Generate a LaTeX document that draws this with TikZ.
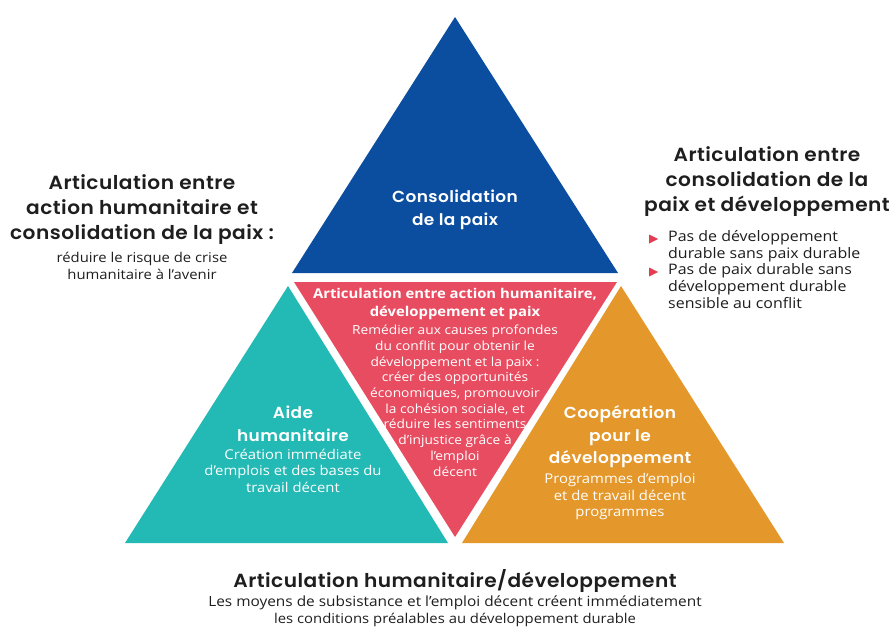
\documentclass[tikz,border=0pt]{standalone}
\usepackage{fontspec}
\setmainfont{Open Sans}[FakeStretch=1.1]
\newfontfamily\headfont{Poppins SemiBold}[LetterSpace=2.5, FakeStretch=1.06]
\usetikzlibrary{positioning,shapes.geometric}

\definecolor{paixblue}{RGB}{11,78,160}
\definecolor{nexusred}{RGB}{232,76,96}
\definecolor{aidteal}{RGB}{35,185,180}
\definecolor{devorange}{RGB}{228,151,42}
\definecolor{bulletred}{RGB}{228,60,80}
\definecolor{inkgray}{RGB}{30,30,30}

\begin{document}
\begin{tikzpicture}[x=1pt, y=-1pt]
\tikzset{
	sidehead/.style={align=center, inner sep=0pt, text=inkgray, font=\headfont\fontsize{19}{25}\selectfont},
	sidebody/.style={align=center, inner sep=0pt, text=inkgray, font=\fontsize{13.5}{16.5}\selectfont},
	itembody/.style={align=left, inner sep=0pt, anchor=north west, text=inkgray, font=\fontsize{14.5}{17}\selectfont},
	inhead/.style={align=center, inner sep=0pt, text=white, font=\headfont\fontsize{16}{22.5}\selectfont},
	inbody/.style={align=center, inner sep=0pt, text=white, font=\fontsize{13.5}{16.5}\selectfont},
	nexushead/.style={align=center, inner sep=0pt, text=white, font=\bfseries\fontsize{13.5}{18}\selectfont},
	nexusbody/.style={align=center, inner sep=0pt, text=white, font=\fontsize{12.5}{15.7}\selectfont},
	itemmark/.style={isosceles triangle, fill=bulletred, inner sep=0pt, minimum height=9pt, minimum width=9pt, isosceles triangle stretches}
}
\useasboundingbox (0,0) rectangle (892,627);

% Four triangles of the nexus
\fill[paixblue] (455,17) -- (618,273) -- (292,273) -- cycle;
\fill[nexusred] (294,282) -- (617,282) -- (455,537) -- cycle;
\fill[aidteal] (288,286) -- (448,543) -- (125,543) -- cycle;
\fill[devorange] (621,286) -- (784,543) -- (462,543) -- cycle;

% Labels inside the triangles
\node[inhead] (paix) at (455,210) {Consolidation\\de la paix};

\node[nexushead] (nexus) at (455,304) {Articulation entre action humanitaire,\\développement et paix};
\node[nexusbody, below=5pt of nexus] (nexusnote)
{Remédier aux causes profondes\\
du conflit pour obtenir le\\
développement et la paix :\\
créer des opportunités\\
économiques, promouvoir\\
la cohésion sociale, et\\
réduire les sentiments\\
d’injustice grâce à\\
l’emploi\\
décent};

\node[inhead] (aid) at (293,424) {Aide\\humanitaire};
\node[inbody, below=7pt of aid] (aidnote)
{Création immédiate\\
d’emplois et des bases du\\
travail décent};

\node[inhead] (dev) at (620,437) {Coopération\\pour le\\développement};
\node[inbody, below=5pt of dev] (devnote)
{Programmes d’emploi\\
et de travail décent\\
programmes};

% Side notes
\node[sidehead] (humpaix) at (142,210)
{Articulation entre\\action humanitaire et\\consolidation de la paix :};
\node[sidebody, below=7pt of humpaix] (humpaixnote)
{réduire le risque de crise\\humanitaire à l’avenir};

\node[sidehead] (paixdev) at (767,182)
{Articulation entre\\consolidation de la\\paix et développement};
\node[itemmark] (mark1) at (652,239) {};
\node[itemmark] (mark2) at (652,272) {};
\node[itembody] (item1) at (668,230) {Pas de développement\\durable sans paix durable};
\node[itembody] (item2) at (668,263) {Pas de paix durable sans\\développement durable\\sensible au conflit};

\node[sidehead] (humdev) at (455,581) {Articulation humanitaire/développement};
\node[sidebody, below=3pt of humdev] (humdevnote)
{\fontsize{14}{16}\selectfont Les moyens de subsistance et l’emploi décent créent immédiatement\\
les conditions préalables au développement durable};

\end{tikzpicture}
\end{document}
